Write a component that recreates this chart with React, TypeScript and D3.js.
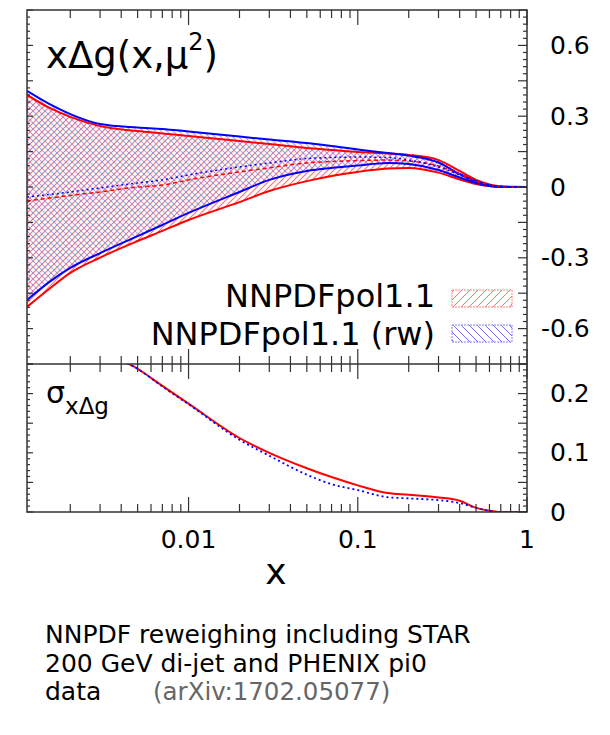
import React from 'react';
import * as d3 from 'd3';

// x grid (log scale)
const xGrid = [0.00111, 0.0015, 0.002, 0.003, 0.005, 0.007, 0.01, 0.02, 0.03, 0.05, 0.07, 0.1, 0.15, 0.2, 0.3, 0.4, 0.5, 0.6, 0.7, 0.8, 1.0];

// NNPDFpol1.1 (red)
const redUpper = [0.390, 0.336, 0.297, 0.258, 0.237, 0.227, 0.216, 0.195, 0.182, 0.165, 0.157, 0.148, 0.142, 0.136, 0.114, 0.068, 0.030, 0.011, 0.002, 0.0, 0.0];
const redLower = [-0.508, -0.432, -0.364, -0.299, -0.229, -0.186, -0.140, -0.064, -0.017, 0.025, 0.047, 0.064, 0.078, 0.081, 0.061, 0.032, 0.013, 0.004, 0.0, 0.0, 0.0];
const redCentral = [-0.059, -0.047, -0.036, -0.021, 0.0, 0.008, 0.030, 0.064, 0.081, 0.102, 0.108, 0.112, 0.114, 0.110, 0.089, 0.055, 0.025, 0.008, 0.002, 0.0, 0.0];

// NNPDFpol1.1 (rw) (blue)
const blueUpper = [0.407, 0.352, 0.309, 0.267, 0.252, 0.246, 0.235, 0.214, 0.201, 0.186, 0.174, 0.159, 0.144, 0.133, 0.104, 0.055, 0.025, 0.008, 0.002, 0.001, 0.0];
const blueLower = [-0.479, -0.403, -0.343, -0.280, -0.208, -0.161, -0.110, -0.021, 0.030, 0.068, 0.081, 0.091, 0.102, 0.097, 0.072, 0.040, 0.017, 0.004, 0.0, 0.0, 0.0];
const blueCentral = [-0.042, -0.032, -0.021, -0.004, 0.017, 0.030, 0.051, 0.085, 0.102, 0.121, 0.125, 0.127, 0.125, 0.114, 0.085, 0.051, 0.021, 0.008, 0.002, 0.0, 0.0];

// uncertainties (lower panel)
const sigmaRed = [0.449, 0.384, 0.330, 0.277, 0.242, 0.213, 0.183, 0.125, 0.100, 0.074, 0.059, 0.045, 0.032, 0.029, 0.0245, 0.019, 0.007, 0.002, 0.0, 0.0, 0.0];
const sigmaBlue = [0.443, 0.378, 0.326, 0.273, 0.242, 0.212, 0.182, 0.122, 0.095, 0.063, 0.047, 0.037, 0.025, 0.023, 0.020, 0.015, 0.007, 0.002, 0.0, 0.0, 0.0];

const xTickLabels = ['0.01', '0.1', '1'];
const xTickValues = [0.01, 0.1, 1];
const yUpperLabels = ['0.6', '0.3', '0', '-0.3', '-0.6'];
const yUpperValues = [0.6, 0.3, 0, -0.3, -0.6];
const yLowerLabels = ['0.2', '0.1', '0'];
const yLowerValues = [0.2, 0.1, 0];
const legendLabels = ['NNPDFpol1.1', 'NNPDFpol1.1 (rw)'];
const captionLines = ['NNPDF reweighing including STAR', '200 GeV di-jet and PHENIX pi0', 'data'];
const captionRef = '(arXiv:1702.05077)';

const FONT = 'DejaVu Sans, Liberation Sans, sans-serif';
const RED = '#ff0000';
const BLUE = '#0000ff';
const AX = '#333';

export default function App() {
  const L = 27, R = 527, T = 10, M = 364, B = 512;
  const x = d3.scaleLog().domain([0.00111, 1]).range([L, R]);
  const yU = d3.scaleLinear().domain([-0.75, 0.75]).range([M, T]);
  const yL = d3.scaleLinear().domain([0, 0.25]).range([B, M]);
  const idx = xGrid.map((_, i) => i);

  const area = (lo: number[], hi: number[]) =>
    d3.area<number>().x(i => x(xGrid[i])).y0(i => yU(lo[i])).y1(i => yU(hi[i])).curve(d3.curveMonotoneX)(idx) || '';
  const lineU = (v: number[]) =>
    d3.line<number>().x(i => x(xGrid[i])).y(i => yU(v[i])).curve(d3.curveMonotoneX)(idx) || '';
  const lineL = (v: number[]) =>
    d3.line<number>().x(i => x(xGrid[i])).y(i => yL(v[i])).curve(d3.curveMonotoneX)(idx) || '';

  // x ticks
  const xTicks: { v: number; major: boolean }[] = [];
  [0.001, 0.01, 0.1, 1].forEach(d => {
    for (let k = 1; k <= 9; k++) {
      const v = k * d;
      if (v >= 0.00111 && v <= 1.0001) xTicks.push({ v, major: k === 1 });
    }
  });
  const yUTicks = d3.range(-25, 26).map(i => ({ v: i * 0.03, major: i % 5 === 0 }));
  const yLTicks = d3.range(0, 26).map(i => ({ v: i * 0.01, major: i % 5 === 0 }));

  const tickLines: JSX.Element[] = [];
  xTicks.forEach((t, i) => {
    const len = t.major ? 15 : 8;
    const px = x(t.v);
    tickLines.push(<line key={'xt' + i} x1={px} x2={px} y1={T} y2={T + len} />);
    tickLines.push(<line key={'xm' + i} x1={px} x2={px} y1={M - len} y2={M + len} />);
    tickLines.push(<line key={'xb' + i} x1={px} x2={px} y1={B} y2={B - len} />);
  });
  yUTicks.forEach((t, i) => {
    const py = yU(t.v);
    tickLines.push(<line key={'yul' + i} x1={L} x2={L + (t.major ? 6 : 3)} y1={py} y2={py} />);
    tickLines.push(<line key={'yur' + i} x1={R} x2={R - (t.major ? 9 : 4)} y1={py} y2={py} />);
  });
  yLTicks.forEach((t, i) => {
    const py = yL(t.v);
    tickLines.push(<line key={'yll' + i} x1={L} x2={L + (t.major ? 6 : 3)} y1={py} y2={py} />);
    tickLines.push(<line key={'ylr' + i} x1={R} x2={R - (t.major ? 9 : 4)} y1={py} y2={py} />);
  });

  const labelX = (s: string) => (s.startsWith('-') ? 550 - 9 : 550);

  return (
    <svg width={610} height={735} style={{ position: 'absolute', left: 0, top: 0, background: '#fff' }} fontFamily={FONT}>
      <defs>
        <pattern id="hRed" patternUnits="userSpaceOnUse" width={6} height={6}>
          <path d="M-1,1 l2,-2 M0,6 l6,-6 M5,7 l2,-2" stroke="#ff5050" strokeOpacity={0.8} strokeWidth={1.1} />
        </pattern>
        <pattern id="hBlue" patternUnits="userSpaceOnUse" width={6} height={6}>
          <path d="M-1,5 l2,2 M0,0 l6,6 M5,-1 l2,2" stroke="#6a6aff" strokeOpacity={0.6} strokeWidth={1.1} />
        </pattern>
        <pattern id="hRedL" patternUnits="userSpaceOnUse" width={8} height={8}>
          <path d="M-1,1 l2,-2 M0,8 l8,-8 M7,9 l2,-2" stroke="#ff7070" strokeWidth={1} />
        </pattern>
        <pattern id="hBlueL" patternUnits="userSpaceOnUse" width={8} height={8}>
          <path d="M-1,7 l2,2 M0,0 l8,8 M7,-1 l2,2" stroke="#7070ff" strokeWidth={1} />
        </pattern>
        <clipPath id="clipU"><rect x={L} y={T} width={R - L} height={M - T} /></clipPath>
        <clipPath id="clipL"><rect x={L} y={M} width={R - L} height={B - M} /></clipPath>
      </defs>
      <rect x={0} y={0} width={610} height={735} fill="#fff" />

      {/* upper panel */}
      <g clipPath="url(#clipU)">
        <path d={area(blueLower, blueUpper)} fill="url(#hBlue)" />
        <path d={area(redLower, redUpper)} fill="url(#hRed)" />
        <path d={lineU(redUpper)} fill="none" stroke={RED} strokeWidth={2} />
        <path d={lineU(redLower)} fill="none" stroke={RED} strokeWidth={2} />
        <path d={lineU(blueUpper)} fill="none" stroke={BLUE} strokeWidth={2} />
        <path d={lineU(blueLower)} fill="none" stroke={BLUE} strokeWidth={2} />
        <path d={lineU(redCentral)} fill="none" stroke={RED} strokeWidth={1.5} strokeDasharray="4,3" />
        <path d={lineU(blueCentral)} fill="none" stroke={BLUE} strokeWidth={1.5} strokeDasharray="2,3" />
      </g>

      {/* lower panel */}
      <g clipPath="url(#clipL)">
        <path d={lineL(sigmaRed)} fill="none" stroke={RED} strokeWidth={2} />
        <path d={lineL(sigmaBlue)} fill="none" stroke={BLUE} strokeWidth={1.8} strokeDasharray="2,3" />
      </g>

      {/* frame and ticks */}
      <g stroke={AX} strokeWidth={1.2}>{tickLines}</g>
      <rect x={L} y={T} width={R - L} height={B - T} fill="none" stroke={AX} strokeWidth={1.5} />
      <line x1={L} x2={R} y1={M} y2={M} stroke={AX} strokeWidth={1.5} />

      {/* y labels */}
      {yUpperValues.map((v, i) => (
        <text key={'yul' + i} x={labelX(yUpperLabels[i])} y={yU(v)} dominantBaseline="central" fontSize={25} fill="#000">
          {yUpperLabels[i]}
        </text>
      ))}
      {yLowerValues.map((v, i) => (
        <text key={'yll' + i} x={labelX(yLowerLabels[i])} y={yL(v)} dominantBaseline="central" fontSize={25} fill="#000">
          {yLowerLabels[i]}
        </text>
      ))}
      {/* x labels */}
      {xTickValues.map((v, i) => (
        <text key={'xl' + i} x={x(v)} y={548} textAnchor="middle" fontSize={25} fill="#000">
          {xTickLabels[i]}
        </text>
      ))}
      <text x={276} y={584} textAnchor="middle" fontSize={36} fill="#000">x</text>

      {/* titles */}
      <text x={46} y={68} fontSize={37} fill="#000">
        xΔg(x,μ<tspan dy={-18} fontSize={24}>2</tspan><tspan dy={18}>)</tspan>
      </text>
      <text x={46} y={403} fontSize={30} fill="#000">
        σ<tspan dy={11} fontSize={23}>xΔg</tspan>
      </text>

      {/* legend */}
      <text x={435} y={307} textAnchor="end" fontSize={32} fill="#000">{legendLabels[0]}</text>
      <text x={435} y={345} textAnchor="end" fontSize={32} fill="#000">{legendLabels[1]}</text>
      <rect x={452} y={290} width={60} height={17} fill="url(#hRedL)" stroke="#ff8080" strokeWidth={1} strokeDasharray="2,1" />
      <rect x={452} y={325} width={60} height={17} fill="url(#hBlueL)" stroke="#8080ff" strokeWidth={1} strokeDasharray="2,1" />

      {/* caption */}
      {captionLines.map((s, i) => (
        <text key={'cap' + i} x={45} y={643 + i * 28.5} fontSize={25} fill="#000">{s}</text>
      ))}
      <text x={153} y={700} fontSize={24.5} fill="#666">{captionRef}</text>
    </svg>
  );
}
